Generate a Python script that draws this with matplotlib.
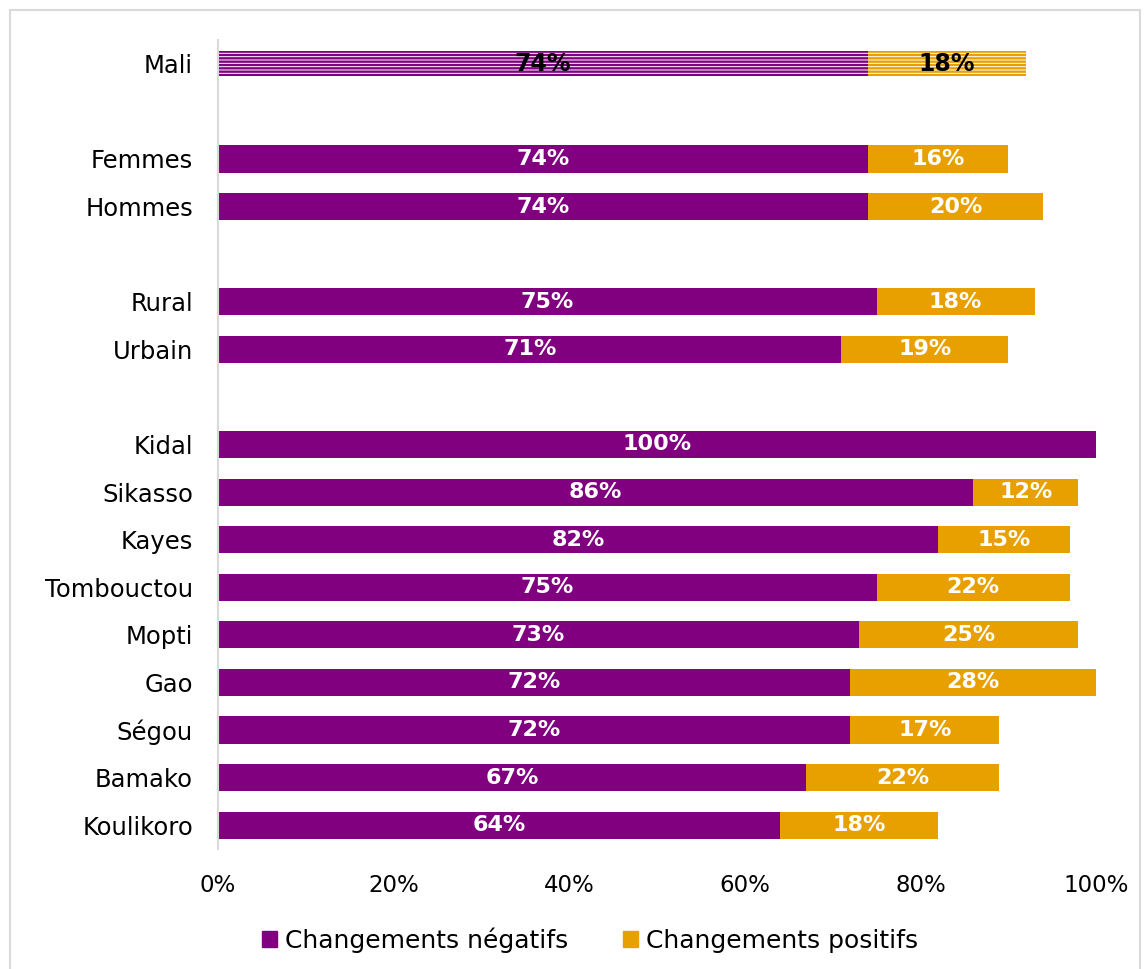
import matplotlib.pyplot as plt
from matplotlib.patches import Rectangle, Patch

# Groupes affichés (de haut en bas), avec des lignes vides entre blocs
categories = ["Mali", "", "Femmes", "Hommes", "", "Rural", "Urbain", "",
              "Kidal", "Sikasso", "Kayes", "Tombouctou", "Mopti", "Gao",
              "Ségou", "Bamako", "Koulikoro"]
negatifs = [74, None, 74, 74, None, 75, 71, None,
            100, 86, 82, 75, 73, 72, 72, 67, 64]
positifs = [18, None, 16, 20, None, 18, 19, None,
            0, 12, 15, 22, 25, 28, 17, 22, 18]

violet = "#800080"
orange = "#E8A000"

plt.rcParams['font.family'] = ['DejaVu Sans']
plt.rcParams['hatch.linewidth'] = 1.7

fig = plt.figure(figsize=(11.44, 9.69), dpi=100)
ax = fig.add_axes([218 / 1144, 1 - 849 / 969, 878 / 1144, 809 / 969])

n = len(categories)
for i, (cat, neg, pos) in enumerate(zip(categories, negatifs, positifs)):
    if neg is None:
        continue
    y = n - 1 - i
    if cat == "Mali":
        # barre nationale rayée
        ax.barh(y, neg, height=0.53, facecolor="white", hatch="-----",
                edgecolor=violet, linewidth=0)
        ax.barh(y, pos, left=neg, height=0.53, facecolor="white", hatch="-----",
                edgecolor=orange, linewidth=0)
        col = "black"
    else:
        ax.barh(y, neg, height=0.57, color=violet, linewidth=0)
        if pos:
            ax.barh(y, pos, left=neg, height=0.57, color=orange, linewidth=0)
        col = "white"
    fs = 17 if cat == "Mali" else 16
    ax.text(neg / 2, y, f"{neg}%", ha="center", va="center",
            color=col, fontsize=fs, fontweight="bold")
    if pos:
        ax.text(neg + pos / 2, y, f"{pos}%", ha="center", va="center",
                color=col, fontsize=fs, fontweight="bold")

ax.set_yticks(range(n))
ax.set_yticklabels(categories[::-1], fontsize=17.5)
ax.set_xlim(0, 100)
ax.set_ylim(-0.5, 16.5)
ax.set_xticks(range(0, 101, 20))
ax.set_xticklabels([f"{v}%" for v in range(0, 101, 20)], fontsize=16.5)
ax.tick_params(length=0)
ax.tick_params(axis="y", pad=18)
ax.tick_params(axis="x", pad=18)
for s in ["top", "right", "bottom"]:
    ax.spines[s].set_visible(False)
ax.spines["left"].set_color("#d9d9d9")
ax.spines["left"].set_linewidth(1.5)

handles = [Patch(color=violet, label="Changements négatifs"),
           Patch(color=orange, label="Changements positifs")]
fig.legend(handles=handles, loc="center", bbox_to_anchor=(590 / 1144, 1 - 940 / 969),
           ncol=2, frameon=False, fontsize=18, handlelength=0.6,
           handleheight=0.6, handletextpad=0.3, columnspacing=2.2)

# cadre gris autour du graphique
fig.patches.append(Rectangle((10 / 1144, -0.01), 1130 / 1144, 1 - 10 / 969 + 0.01,
                             transform=fig.transFigure, fill=False,
                             edgecolor="#d9d9d9", linewidth=1.5))

fig.savefig("out.png", dpi=100)
